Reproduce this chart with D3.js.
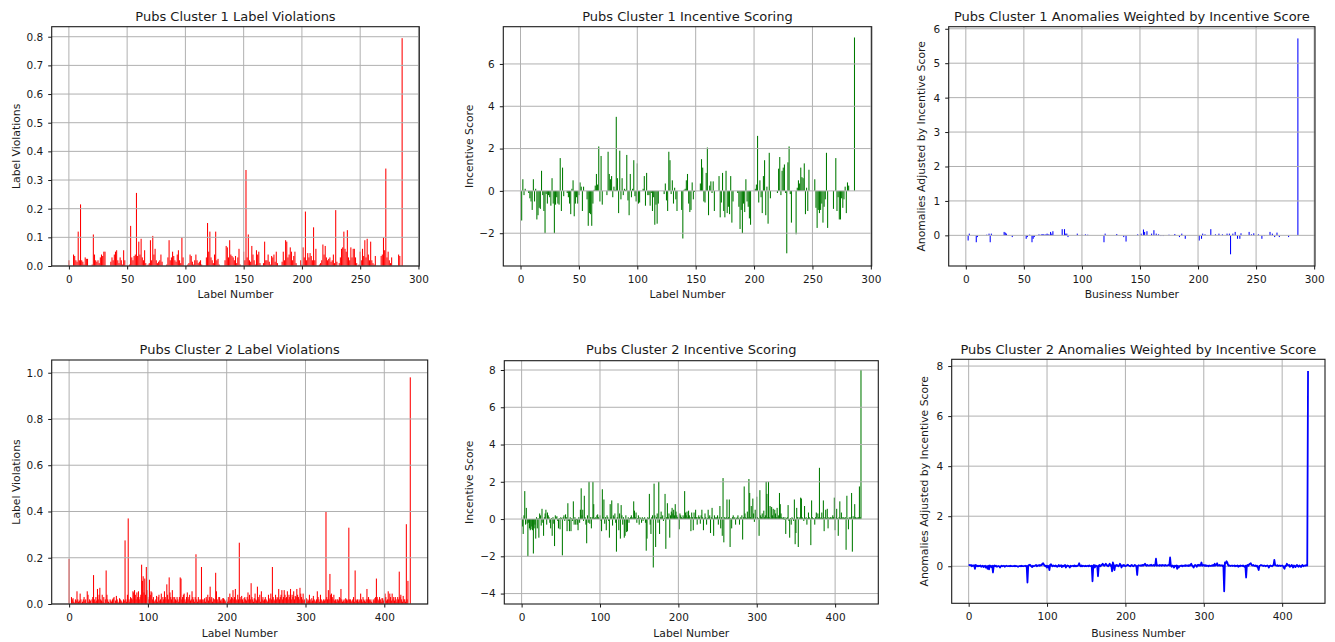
<!DOCTYPE html>
<html><head><meta charset="utf-8">
<script src="https://cdn.jsdelivr.net/npm/d3@7"></script>
<style>body{margin:0;background:#fff}svg{display:block;font-family:"DejaVu Sans",sans-serif}</style>
</head><body><svg id="c" width="1335" height="642"></svg>
<script>
// ---------- Cluster 1 (287 labels) ----------
const violations1=[
0.02,0,0,0,0.04,0.035,0.02,0.015,0.12,0.02,
0.215,0.02,0.015,0.005,0.03,0.025,0.025,0,0,0,
0.005,0.11,0.04,0.02,0.015,0.02,0.01,0.03,0.04,0.035,
0.05,0.05,0,0,0,0,0.015,0.03,0.02,0.04,
0.05,0.055,0.02,0.01,0.03,0.02,0.005,0.055,0.02,0,
0,0,0.005,0.14,0.03,0.02,0.035,0.04,0.255,0.035,
0.085,0.04,0.095,0.03,0.02,0.055,0.01,0,0.005,0.01,
0.09,0.02,0.105,0.04,0.06,0.02,0.01,0.015,0.02,0.04,
0.015,0,0,0,0.005,0.03,0.09,0.02,0.03,0.05,
0.035,0.02,0.015,0.04,0.055,0.02,0.01,0.1,0.03,0,
0,0,0.005,0.01,0.04,0.035,0.015,0.005,0.02,0.04,
0.02,0.01,0.015,0.02,0.005,0,0,0,0.03,0.15,
0.05,0.12,0.03,0.02,0.01,0.04,0.12,0.02,0.025,0.005,
0,0,0,0,0.02,0.07,0.065,0.03,0.09,0.04,
0.035,0.03,0.02,0.035,0.01,0.03,0.06,0.005,0,0,
0.05,0.02,0.335,0.03,0.11,0.02,0.015,0.07,0.04,0.02,
0.005,0.055,0.04,0.05,0.01,0,0,0.01,0.085,0.02,
0.02,0.04,0.015,0.005,0.035,0.03,0.04,0.015,0.05,0.01,
0,0,0,0.015,0.05,0.02,0.09,0.085,0.03,0.04,
0.065,0.05,0.02,0.035,0.05,0.01,0,0,0,0.02,
0.005,0.065,0.03,0.19,0.02,0.045,0.03,0.045,0.035,0.02,
0.135,0.02,0.06,0,0,0.005,0.01,0.02,0.075,0.04,
0.07,0.03,0.02,0.025,0.03,0.015,0.02,0.04,0.01,0.195,
0.015,0,0.01,0.03,0.06,0.065,0.12,0.06,0.05,0.125,
0.03,0.02,0.065,0.03,0.06,0.06,0.03,0.01,0,0.005,
0.05,0.02,0.06,0.035,0.09,0.03,0.095,0.04,0.02,0.085,
0.02,0.01,0.005,0.035,0,0,0,0,0.035,0.04,
0.1,0.055,0.34,0.03,0.05,0.02,0.01,0.03,0,0,
0,0,0,0.04,0.035,0,0.795];

const incentive1=[
-0.15,-1.4,0.55,-0.2,0.1,0,0,-0.1,-0.35,-0.5,
-0.9,0.55,-0.5,0.1,-1.35,-1.15,-0.8,-0.85,0.95,-0.2,
-0.95,-2.0,-0.15,-0.6,-0.2,-0.3,-0.7,0.6,-0.6,-2.0,
-0.65,-0.3,-0.6,-0.65,1.55,-0.95,1.1,-0.25,0,0,
-0.1,-0.3,-0.6,-1.1,0.1,0.5,-1.2,-0.6,-0.3,-0.6,
-0.2,0.4,0.2,-0.95,0.2,0,0,-0.4,-1.65,-1.05,
-1.1,-1.65,-0.6,0.05,0.25,0.8,0.3,2.1,-0.5,1.65,
-0.65,0,0,0,-0.2,1.85,0.8,0.55,0.7,-0.3,
0.2,0.05,3.5,0.6,-1.05,1.9,-0.4,0.6,-0.2,0.1,
0.05,1.7,-0.45,-1.15,0.8,-0.3,0.1,1.45,-0.25,-0.5,
1.3,-0.6,-0.55,0,0,0.1,0.7,-0.7,0.85,-0.2,
-0.2,-0.7,-0.1,-0.95,-0.3,-1.6,-0.65,-1.55,-0.6,0,
0,0,0,-0.15,0.35,-0.45,-0.95,1.85,1.45,-0.15,
0.5,-0.6,0.15,-0.4,-0.95,0,0,0,-0.9,-2.25,
0.05,0.1,0.5,0.8,-0.6,-1.0,-0.9,0.4,-0.4,-0.05,
0,0,0,0,0.35,1.5,1.1,-0.5,-0.55,0.85,
2.05,-1.15,0.25,0.45,-0.1,0.45,-0.95,0,0,0,
0.7,-1.25,-0.55,0.85,-0.95,-1.25,0.95,-1.05,-0.75,-1.1,
0.7,-1.5,-0.5,0,0,0,-0.1,-0.75,-1.8,-0.9,
-2.0,-0.6,-1.0,0.55,-0.5,-0.75,-1.3,-1.6,0,0,
0,0.1,0.3,2.6,-0.55,0.5,-0.3,-1.05,0.7,1.45,
-1.15,0.2,-1.55,1.8,-0.35,0,0,0,0,0,
-0.1,1.05,1.6,-0.2,0.95,1.1,1.25,-0.1,-2.95,1.35,
2.1,-0.15,-1.5,0,0,0,-2.05,0.15,0.5,0.35,
1.1,0.65,0.6,1.3,-1.1,0.15,-0.95,1.0,0,0,
0,0,0.55,-0.8,-1.75,-0.9,-1.05,-0.9,-0.6,-1.5,
-0.75,-0.4,1.8,-1.75,0,0,0,0,-0.85,0,
1.55,-0.95,-0.3,-1.35,-1.35,-0.35,-0.8,-0.4,0.2,-1.05,
0.4,0.25,0,0,0,0,7.25];

const anomalies1=[
0,0,-0.15,0.05,0,0,0,0,0,-0.2,
-0.05,0,0,0,0,0,0,0,0.02,0,
0.05,-0.2,0.05,0,0,0,0,0,0,0,
0,0,0,0.1,0.08,0.05,0,0,0,0,
-0.05,0,0,0,0,0,0,0,0,0,
0,0,-0.1,-0.05,0,0.02,0,-0.2,-0.1,-0.05,
0,0,0,0.03,0,0.03,0.03,0.03,0.02,0.03,
0.05,0.03,0.02,0.1,0.05,0.12,0,0,0,0,
0,0,0,0.18,0,0.18,0.05,0.05,-0.05,0,
0,0,0,0,0,0,0.05,0,0,0,
0.02,0,0,0.03,0,0.02,0,0,0,0,
0,0,0,0,0,0,0,0,0,-0.2,
0.05,0,0,0,0,0,0,0,0,0,
0.04,0,0,0,0,0,-0.05,0,-0.18,0,
0,0,0,0,0,0,0,0,0.03,0,
0,0.05,0,0.17,0.1,0,0.12,0,0,0,
0.05,0,0.15,0,0.05,0,0.03,0,-0.02,0,
-0.02,0,0,0,0,0.02,0,0,0,0,
0.04,0,0,0,-0.05,0,0.05,0,0,-0.1,
0,0,0,0,0,0,0,0,0,0,
0,-0.15,0,-0.1,0.05,0,0.03,0,0,0,
0,0.18,0,0,0,0.03,0,0,0.05,0,
0,0.03,0,0,0,0.05,0,0.05,-0.55,0,
0.05,0,0.1,0,-0.1,0,-0.1,0.06,0,0,
0,0,0,0,0.1,0,0.03,0,0.06,0,
0,0,0.03,0,0,-0.1,0,-0.02,0,0,
0,0,0.1,0,0.05,0,-0.05,0,0.08,0,
-0.05,0,0,0,0,0,0,0,-0.05,0,
0,0,0,0,0,0,5.72];

// ---------- Cluster 2 (434 labels) ----------
const violations2=[
0.195,0,0,0.03,0.02,0.025,0.01,0.005,0.02,0.015,
0.055,0.02,0.01,0.015,0.045,0.02,0.005,0.01,0.02,0.03,
0.015,0.02,0.005,0.055,0.04,0.01,0.02,0.015,0.005,0.02,
0.03,0.125,0.02,0.01,0.03,0.015,0.065,0.02,0.04,0.07,
0.02,0.015,0.04,0.01,0.03,0.005,0.02,0.145,0.04,0.02,
0.01,0.005,0.02,0.015,0.01,0.02,0.025,0.03,0.005,0.015,
0.035,0.02,0.01,0.005,0.025,0.02,0.015,0.01,0.005,0.02,
0.015,0.275,0.02,0.01,0.04,0.37,0.02,0.01,0.03,0.025,
0.02,0.055,0.05,0.06,0.04,0.02,0.05,0.03,0.055,0.02,
0.03,0.04,0.17,0.1,0.12,0.05,0.11,0.04,0.16,0.06,
0.03,0.02,0.105,0.04,0.055,0.05,0.02,0.03,0.01,0.015,
0.02,0.035,0.01,0.03,0.04,0.015,0.02,0.045,0.01,0.03,
0.02,0.055,0.03,0.02,0.085,0.04,0.02,0.115,0.05,0.03,
0.02,0.06,0.03,0.01,0.03,0.02,0.015,0.03,0.02,0.01,
0.03,0.115,0.11,0.02,0.03,0.04,0.045,0.02,0.01,0.03,
0.05,0.02,0.03,0.04,0.015,0.02,0.055,0.03,0.02,0.01,
0.03,0.215,0.02,0.01,0.03,0.02,0.015,0.02,0.16,0.02,
0.01,0.02,0.025,0.01,0.03,0.02,0.04,0.015,0.03,0.075,
0.02,0.03,0.01,0.025,0.02,0.02,0.135,0.055,0.02,0.01,
0.03,0.03,0.015,0.02,0.01,0.025,0.025,0.02,0.01,0.015,
0.02,0.01,0.03,0.015,0.045,0.02,0.03,0.025,0.06,0.02,
0.03,0.065,0.02,0.015,0.04,0.02,0.265,0.03,0.02,0.035,
0.02,0.01,0.025,0.03,0.02,0.015,0.03,0.05,0.02,0.04,
0.02,0.09,0.03,0.02,0.01,0.025,0.045,0.02,0.015,0.075,
0.03,0.02,0.04,0.01,0.055,0.02,0.03,0.015,0.02,0.03,
0.02,0.015,0.01,0.04,0.02,0.025,0.045,0.02,0.16,0.03,
0.02,0.015,0.04,0.02,0.03,0.025,0.065,0.02,0.03,0.04,
0.06,0.02,0.03,0.06,0.04,0.025,0.03,0.055,0.02,0.04,
0.03,0.065,0.02,0.04,0.03,0.055,0.02,0.035,0.03,0.065,
0.04,0.03,0.02,0.07,0.045,0.03,0.02,0.045,0.015,0.02,
0.03,0.025,0.01,0.02,0.015,0.04,0.02,0.01,0.025,0.015,
0.035,0.02,0.015,0.01,0.02,0.055,0.03,0.02,0.01,0.04,
0.02,0.015,0.01,0.02,0.015,0.02,0.4,0.03,0.02,0.06,
0.02,0.13,0.04,0.045,0.03,0.02,0.04,0.015,0.02,0.01,
0.02,0.02,0.015,0.03,0.025,0.065,0.02,0.01,0.015,0.02,
0.01,0.025,0.02,0.015,0.02,0.33,0.02,0.02,0.01,0.015,
0.02,0.03,0.01,0.145,0.02,0.015,0.02,0.01,0.02,0.015,
0.045,0.02,0.01,0.03,0.02,0.015,0.01,0.02,0.065,0.02,
0.03,0.02,0.015,0.02,0.01,0.005,0.02,0.015,0.025,0.03,
0.11,0.03,0.02,0.015,0.03,0.02,0.01,0.025,0.025,0.015,
0.02,0.045,0.03,0.015,0.02,0.055,0.02,0.045,0.03,0.015,
0.045,0.02,0.03,0.015,0.03,0.02,0.01,0.03,0.02,0.14,
0.03,0.04,0.02,0.01,0.035,0.02,0.02,0.01,0.345,0.02,
0.1,0,0,0.98];

const incentive2=[
0.1,-0.4,-0.8,0.2,1.5,-0.3,0.6,-0.25,-2.0,-0.2,
-0.5,-0.6,-0.55,-0.4,-0.6,-1.85,-0.5,-0.3,-1.05,0.1,
-0.5,0.05,-1.0,0.3,0.2,-0.35,0.55,-0.2,-0.9,0.1,
0.3,0.5,-0.3,0.35,0.2,0.1,-0.2,-0.5,0.05,-0.9,
0.1,-0.25,-1.45,0.2,0.1,0.15,-0.1,-0.5,0.05,-0.55,
0.1,0.05,-1.95,0.1,0.2,-0.1,0.25,0.1,-0.65,0.85,
-0.1,-0.65,0.1,-0.65,0.05,-0.1,0.95,-0.3,0.1,-0.3,
-0.05,-0.3,-0.6,0.1,-0.2,0.5,1.65,0.2,0.5,-0.1,
1.25,0.1,-0.3,-1.3,0.2,-0.2,2.0,-0.25,0.1,-0.5,
0.1,2.0,0.8,0.05,0.1,0.05,0.2,0.25,0.1,0.05,
0.2,-0.1,-0.65,1.6,0.1,1.05,-0.25,0.1,-0.6,0.2,
0.1,-0.1,-1.0,0.8,0.1,1.0,-0.35,0.2,0.1,0.3,
-0.2,-1.75,0.1,0.85,-0.6,0.3,-1.05,0.75,0.2,-0.3,
0.1,-1.0,-0.9,0.2,-0.7,-0.65,0.1,-0.2,0.05,0.1,
0.2,0.1,0.05,0.95,0.45,0.1,0.35,-0.2,0.05,0.2,
-0.3,0.1,0.05,-0.2,0.1,-0.1,0.05,0.1,-0.2,-1.7,
-1.05,0.1,0.05,1.35,-0.3,-0.8,0.1,0.2,-2.6,1.9,
0.2,-1.5,0.1,0.3,-0.2,2.0,-0.8,0.1,0.4,0.1,
0.2,-0.1,0.05,1.35,-1.6,0.1,0.85,0.1,0.3,-1.0,
0.2,0.4,0.6,0.3,0.5,0.2,0.8,0.4,0.2,0.1,
0.1,-0.55,0.3,0.2,0.1,0.05,0.2,0.1,1.5,0.35,
0.2,0.4,0.1,0.45,0.2,0.1,-0.65,0.35,0.1,-0.6,
0.35,0.1,0.5,0.1,-0.3,0.1,0.2,0.1,-0.25,0.2,
0.5,0.1,-0.6,0.05,0.3,0.1,-0.3,0.05,0.5,0.1,
0.2,-0.75,0.1,0.6,0.05,-0.9,0.2,0.1,0.05,0.1,
0.2,-0.3,0.1,0.7,-0.5,0.1,-0.9,2.2,-1.25,0.1,
0.05,0.1,1.05,0.05,0.1,1.05,-1.5,0.05,-0.5,0.1,
0.2,0.05,0.1,-0.3,0.05,0.1,0.2,0.05,-0.3,0.1,
0.05,0.2,-1.1,0.1,1.75,0.3,0.1,0.05,0.4,0.1,
2.15,1.4,0.1,0.7,0.05,1.1,0.3,-0.15,0.5,0.1,
1.2,0.1,0.05,-0.9,1.55,0.2,0.1,0.3,0.05,0.45,
0.1,0.2,2.0,1.35,0.1,2.0,0.1,0.7,0.05,0.65,
0.2,0.55,0.1,0.5,0.3,0.1,0.6,0.1,0.2,1.4,
0.8,0.3,0.1,0.05,0.1,-0.05,0.1,-0.8,0.05,0.1,
0.75,-0.1,-1.0,0.05,-0.3,0.1,0.05,-0.1,1.05,-1.35,
-0.75,0.6,0.1,-1.5,0.1,0.05,1.15,1.1,0.1,0.05,
-0.1,0.7,0.05,0.1,-0.3,0.05,0.35,0.1,0.05,-1.4,
1.0,0.1,0.05,0.05,-0.3,0.1,0.35,0.05,0.3,0.1,
2.75,0.05,0.1,0.35,0.05,1.0,-0.65,0.1,0.5,0.05,
0.55,-0.5,0.1,0.05,0.1,0.05,0.1,0.2,0.1,1.15,
-0.6,0.1,0.55,0.05,-0.9,0.1,0.95,0.05,0.35,0.1,
0.05,0.1,0.05,0.1,-1.65,1.25,0.05,-0.55,0.1,0.05,
0.1,1.4,-1.75,0.15,0.05,0.8,0.1,0.05,0.1,0.05,
0.1,1.75,0.1,8.0];

const anomalies2=[
0.05,0.05,0.04,0.05,0,0.03,0.02,0.04,-0.1,0.05,
0.03,0,0.02,0,0.02,0.03,-0.02,0,0.02,-0.03,
0,0.02,-0.05,0,-0.1,0.02,-0.12,0.03,0,-0.03,
0.02,-0.25,0.02,0.03,0,0.02,-0.02,0,0.01,0,
-0.05,0,0.02,0,0.01,0.02,-0.02,0,0.02,0.01,
0,0.01,0,0.02,0,0.01,0,0.01,0,0.02,
0,0.01,0,-0.02,0,0.01,0,0.02,0,0.01,
0,0.01,0.02,0,0.01,-0.65,0.02,0.05,0.06,0.03,
0,-0.03,0.02,0,0.01,0.03,0.05,0,0.03,0.04,
0.02,0.05,0.03,0.04,0.1,0.12,0.06,0.03,0,0.02,
-0.05,0.02,0.01,-0.15,0.06,0.08,0.02,0,0.03,0.02,
0,0.03,0.01,-0.02,0,0.05,0,0.02,0.04,-0.03,
0.02,0,0.03,0.05,-0.05,0,0.03,0.02,0,-0.05,
0.02,0,0.01,0.02,0,0.03,0,0.02,0,0.01,
0.05,0.12,0.02,0,0.03,0,0.02,0.01,0,0.02,
0,0.01,0.02,0,0.03,0.01,0,0.02,-0.6,0.02,
0.05,-0.05,0.03,0.02,0.01,-0.4,0.02,0.05,0,0.03,
0.06,0.1,0.04,0.02,0.05,0.1,0.05,0.02,0,0.05,
0.1,0.02,0.04,-0.2,0.15,0.05,-0.15,0.03,0.02,0.05,
0.02,0,0.03,0.1,0.05,-0.05,0.03,0.02,0.05,0.02,
0,0.02,0.04,0.06,0.03,0.02,0,0.03,0.05,0.02,
0,0.02,0.05,0.03,0,-0.35,0.02,0.04,0.03,0.02,
0.04,0.02,0.05,0.03,0.06,0.1,0.04,0.02,0.05,0.03,
0.02,0.04,0.03,0.06,0.02,0.03,0.05,0.02,0.04,0.3,
0.02,0.04,0.03,0.02,0.05,0.04,0.02,0.05,0.03,0.04,
0.02,0.05,0.03,0.02,0.04,0.05,0.03,0.35,0.02,-0.02,
0.03,0.02,-0.05,0.02,0.01,0.03,-0.1,0.02,-0.05,0,
0.02,0.01,0.03,0,0.02,0.03,0.01,0.04,0.02,0.03,
0.01,0.04,0.02,0.05,0.1,0.03,0,-0.05,0.02,0.05,
0.03,-0.02,0.05,0.03,0.06,0.02,0.05,0.15,0.02,0.03,
0.05,0.02,0.04,0.01,0.03,0.02,0,0.03,0.02,0.01,
0.03,0.02,0.05,0.02,0.1,0.03,0.05,0.12,0.02,0.03,
0.05,0.02,0.03,0.04,0.01,0.03,-1.0,0.15,0.12,0.2,
0.15,0.05,0.02,0.03,0.01,0.02,0.03,0.01,0.02,0.03,
0,0.02,0.01,0.03,-0.02,0.02,0,0.03,0.02,0.01,
0.03,0,-0.02,0.02,-0.45,0.03,0.05,0.02,0.08,0.1,
0.12,0.05,0.03,0.05,0.02,0.01,0.03,0,0.02,-0.05,
-0.15,0.02,0.03,0.05,0.04,0.02,0.01,0.03,0.02,0,
0.02,0.03,0.01,-0.05,0.02,0.03,0.01,0,0.03,0.04,
0.25,0.05,0.03,0.02,0.04,0.01,0.02,0.03,0.01,0.02,
0.03,0.01,-0.05,-0.1,0.02,0.01,0.1,0.05,0.03,0.05,
-0.02,0,0.05,0.02,-0.05,0.03,0,-0.03,0.02,0.05,
0,-0.02,0.03,0.01,-0.03,0.02,0.05,0,0.02,0.03,
0.02,0.05,0.03,7.8];

// ---------- tick labels ----------
const xTicks1=[0,50,100,150,200,250,300];
const xTicks2=[0,100,200,300,400];
const yTicksViol1=[0,0.1,0.2,0.3,0.4,0.5,0.6,0.7,0.8];
const yTicksInc1=[-2,0,2,4,6];
const yTicksAnom1=[0,1,2,3,4,5,6];
const yTicksViol2=[0,0.2,0.4,0.6,0.8,1.0];
const yTicksInc2=[-4,-2,0,2,4,6,8];
const yTicksAnom2=[0,2,4,6,8];

const titles=["Pubs Cluster 1 Label Violations","Pubs Cluster 1 Incentive Scoring","Pubs Cluster 1 Anomalies Weighted by Incentive Score",
"Pubs Cluster 2 Label Violations","Pubs Cluster 2 Incentive Scoring","Pubs Cluster 2 Anomalies Weighted by Incentive Score"];
const xLabels=["Label Number","Label Number","Business Number","Label Number","Label Number","Business Number"];
const yLabels=["Label Violations","Incentive Score","Anomalies Adjusted by Incentive Score","Label Violations","Incentive Score","Anomalies Adjusted by Incentive Score"];

const panels=[
 {data:violations1,color:"#ff0000",type:"bar",box:[51.7,419.3,26.7,266],xdom:[-14.74,300.74],ydom:[0,0.835],xt:xTicks1,yt:yTicksViol1,yf:".1f",tY:20.7,xlY:297.5,ylX:20},
 {data:incentive1,color:"#007a00",type:"bar",box:[503.3,871.7,26.7,266],xdom:[-14.74,300.74],ydom:[-3.55,7.76],xt:xTicks1,yt:yTicksInc1,yf:"d",tY:20.7,xlY:297.5,ylX:473},
 {data:anomalies1,color:"#0000ff",type:"bar",box:[948.7,1315,26.7,266],xdom:[-14.74,300.74],ydom:[-0.89,6.06],xt:xTicks1,yt:yTicksAnom1,yf:"d",tY:20.7,xlY:297.5,ylX:925},
 {data:violations2,color:"#ff0000",type:"bar",box:[51.7,427.7,360,604],xdom:[-22.1,455.1],ydom:[0,1.055],xt:xTicks2,yt:yTicksViol2,yf:".1f",tY:354,xlY:636.5,ylX:20},
 {data:incentive2,color:"#007a00",type:"bar",box:[504.3,878.3,360.7,604],xdom:[-22.1,455.1],ydom:[-4.56,8.5],xt:xTicks2,yt:yTicksInc2,yf:"d",tY:354,xlY:636.5,ylX:473},
 {data:anomalies2,color:"#0000ff",type:"line",box:[951.7,1325,359.3,603.3],xdom:[-21.65,454.65],ydom:[-1.48,8.27],xt:xTicks2,yt:yTicksAnom2,yf:"d",tY:354,xlY:636.5,ylX:928}
];

const svg=d3.select("#c");
const defs=svg.append("defs");
panels.forEach((p,k)=>{
  const [L,R,T,B]=p.box;
  const x=d3.scaleLinear().domain(p.xdom).range([L,R]);
  const y=d3.scaleLinear().domain(p.ydom).range([B,T]);
  const g=svg.append("g");
  defs.append("clipPath").attr("id","clip"+k).append("rect").attr("x",L).attr("y",T).attr("width",R-L).attr("height",B-T);
  const grid=()=>{
    const gg=g.append("g").attr("stroke","#b0b0b0").attr("stroke-width",1);
    gg.selectAll("line.gx").data(p.xt).join("line").attr("x1",d=>x(d)).attr("x2",d=>x(d)).attr("y1",T).attr("y2",B);
    gg.selectAll("line.gy").data(p.yt).join("line").attr("y1",d=>y(d)).attr("y2",d=>y(d)).attr("x1",L).attr("x2",R);
  };
  const plot=g.append("g").attr("clip-path",`url(#clip${k})`);
  if(p.type==="bar"){
    const bw=d=>Math.max(1.05,x(d.i+0.45)-x(d.i-0.45));
    plot.selectAll("rect").data(p.data.map((v,i)=>({i,v})).filter(d=>d.v!==0)).join("rect")
      .attr("x",d=>x(d.i)-bw(d)/2).attr("width",bw)
      .attr("y",d=>y(Math.max(0,d.v))).attr("height",d=>Math.max(0.6,Math.abs(y(d.v)-y(0))))
      .attr("fill",p.color);
    grid();
  } else {
    grid();
    const line=d3.line().x((d,i)=>x(i)).y(d=>y(d));
    g.append("path").attr("clip-path",`url(#clip${k})`).datum(p.data).attr("d",line)
      .attr("fill","none").attr("stroke",p.color).attr("stroke-width",1.8).attr("stroke-linejoin","round");
  }
  g.append("rect").attr("x",L).attr("y",T).attr("width",R-L).attr("height",B-T)
    .attr("fill","none").attr("stroke","#1a1a1a").attr("stroke-width",1.1);
  const ax=g.append("g").attr("transform",`translate(0,${B})`)
    .call(d3.axisBottom(x).tickValues(p.xt).tickSize(3.5).tickPadding(6).tickFormat(d3.format("d")));
  const ay=g.append("g").attr("transform",`translate(${L},0)`)
    .call(d3.axisLeft(y).tickValues(p.yt).tickSize(3.5).tickPadding(5).tickFormat(d3.format(p.yf)));
  [ax,ay].forEach(a=>{
    a.select(".domain").remove();
    a.attr("font-family","DejaVu Sans, sans-serif").attr("font-size",10.5);
    a.selectAll("line").attr("stroke","#1a1a1a");
    a.selectAll("text").attr("fill","#1a1a1a");
  });
  g.append("text").attr("x",(L+R)/2).attr("y",p.tY).attr("text-anchor","middle")
    .attr("font-size",13).attr("fill","#1a1a1a").text(titles[k]);
  g.append("text").attr("x",(L+R)/2).attr("y",p.xlY).attr("text-anchor","middle")
    .attr("font-size",10.8).attr("fill","#1a1a1a").text(xLabels[k]);
  g.append("text").attr("transform",`translate(${p.ylX},${(T+B)/2}) rotate(-90)`).attr("text-anchor","middle")
    .attr("font-size",10.8).attr("fill","#1a1a1a").text(yLabels[k]);
});
</script></body></html>
